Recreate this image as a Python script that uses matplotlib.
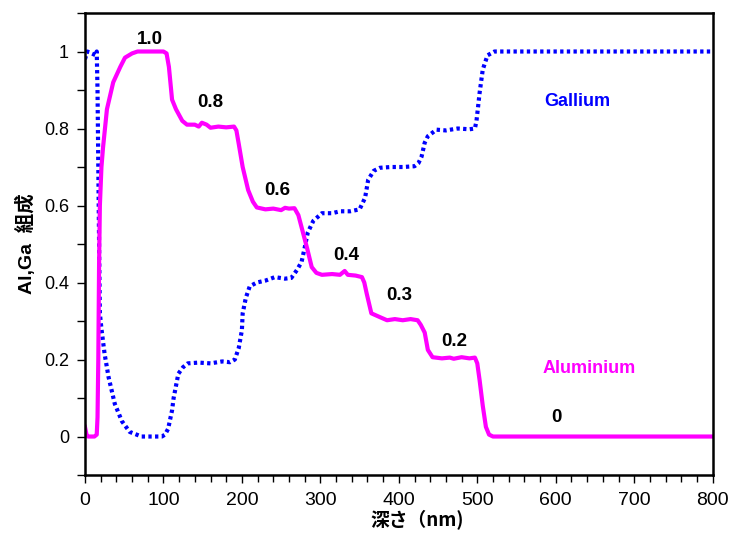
import matplotlib
matplotlib.use("Agg")
import matplotlib.pyplot as plt
from matplotlib.ticker import MultipleLocator

# アルミニウム組成 (depth nm, fraction)
al_x = [0, 2, 4, 8, 12, 15, 16, 17, 18, 19, 21, 23, 28, 36, 45, 51, 60, 67, 80, 100,
        104, 107, 111, 116, 124, 130, 140, 145, 149, 155, 160, 170, 180, 190, 193, 196,
        201, 208, 214, 219, 230, 240, 250, 255, 260, 267, 272, 276, 283, 289, 295, 302,
        315, 325, 331, 335, 345, 353, 356, 359, 365, 376, 385, 395, 405, 415, 424, 428,
        433, 437, 443, 455, 465, 470, 480, 490, 497, 500, 503, 507, 511, 515, 520, 600,
        700, 800]
al_y = [0.025, 0.005, 0.0, 0.0, 0.0, 0.005, 0.05, 0.2, 0.45, 0.6, 0.7, 0.75, 0.85, 0.92,
        0.96, 0.984, 0.995, 1.0, 1.0, 1.0,
        0.995, 0.96, 0.875, 0.85, 0.82, 0.81, 0.81, 0.805, 0.815, 0.81, 0.802, 0.805,
        0.803, 0.805, 0.795, 0.76,
        0.70, 0.64, 0.61, 0.595, 0.59, 0.592, 0.588, 0.594, 0.592, 0.593, 0.575, 0.544,
        0.49, 0.44, 0.425, 0.42,
        0.422, 0.42, 0.43, 0.42, 0.418, 0.414, 0.40, 0.372, 0.32, 0.31, 0.302, 0.305,
        0.302, 0.305, 0.302, 0.29,
        0.27, 0.225, 0.206, 0.203, 0.205, 0.202, 0.206, 0.203, 0.205, 0.19, 0.146, 0.08,
        0.025, 0.005, 0.0, 0.0,
        0.0, 0.0]

# ガリウム組成
ga_x = [0, 3, 14, 15, 16, 17, 18, 19, 21, 25, 30, 38, 47, 57, 72, 85, 98, 102, 106, 111,
        113, 119, 125, 131, 145, 160, 175, 185, 191, 196, 200, 201, 205, 210, 219, 230,
        242, 255, 263, 270, 276, 280, 284, 291, 302, 315, 325, 338, 350, 357, 361, 368,
        376, 390, 405, 420, 425, 429, 433, 437, 448, 460, 475, 490, 497, 499, 501, 503,
        507, 513, 522, 600, 700, 800]
ga_y = [0.98, 1.0, 0.99, 1.0, 0.9, 0.7, 0.5, 0.32, 0.28, 0.215, 0.155, 0.085, 0.04, 0.012,
        0.0, 0.0, 0.0, 0.005, 0.02, 0.068,
        0.1, 0.163, 0.18, 0.19, 0.192, 0.19, 0.195, 0.193, 0.2, 0.23, 0.276, 0.32, 0.36,
        0.39, 0.40, 0.405,
        0.414, 0.41, 0.412, 0.432, 0.453, 0.49, 0.53, 0.56, 0.58, 0.58, 0.585, 0.585,
        0.59, 0.62, 0.667, 0.69,
        0.698, 0.70, 0.70, 0.702, 0.71, 0.727, 0.763, 0.78, 0.797, 0.795, 0.80, 0.798,
        0.80, 0.82, 0.856, 0.893,
        0.953, 0.99, 1.0, 1.0, 1.0, 1.0]

# 段ごとの組成ラベル
step_labels = ["1.0", "0.8", "0.6", "0.4", "0.3", "0.2", "0"]
step_x = [83, 160, 245, 333, 401, 471, 601]
step_y = [1.03, 0.867, 0.638, 0.47, 0.365, 0.247, 0.05]

fig = plt.figure(figsize=(7.35, 5.35), dpi=100)
ax = fig.add_axes([0.1156, 0.1121, 0.854, 0.8636])

ax.plot(ga_x, ga_y, color="#0000ff", lw=3, linestyle=(0, (0.8, 0.8)))
ax.plot(al_x, al_y, color="#ff00ff", lw=3)

for t, x, y in zip(step_labels, step_x, step_y):
    ax.text(x, y, t, ha="center", va="center", fontsize=13.5, fontweight="bold",
            family="Liberation Sans")

ax.text(627, 0.87, "Gallium", color="#0000ff", ha="center", va="center",
        fontsize=13, fontweight="bold", family="Liberation Sans")
ax.text(643, 0.177, "Aluminium", color="#ff00ff", ha="center", va="center",
        fontsize=13, fontweight="bold", family="Liberation Sans")

ax.set_xlim(0, 800)
ax.set_ylim(-0.1, 1.1)
ax.xaxis.set_major_locator(MultipleLocator(100))
ax.xaxis.set_minor_locator(MultipleLocator(20))
ax.yaxis.set_minor_locator(MultipleLocator(0.1))
ax.set_yticks([0, 0.2, 0.4, 0.6, 0.8, 1.0])
ax.set_yticklabels(["0", "0.2", "0.4", "0.6", "0.8", "1"])

ax.tick_params(which="both", direction="out", width=1, color="black")
ax.tick_params(which="major", length=6)
ax.tick_params(which="minor", length=6)
ax.tick_params(axis="x", which="minor", length=5)
ax.tick_params(axis="x", which="major", pad=6)
ax.tick_params(axis="y", which="major", pad=5.5)
for lab in ax.get_xticklabels():
    lab.set_family(["Liberation Sans Narrow", "Liberation Sans"])
    lab.set_fontsize(14)
for lab in ax.get_yticklabels():
    lab.set_family("Liberation Sans")
    lab.set_fontsize(13)

for s in ax.spines.values():
    s.set_linewidth(1.8)

ax.set_xlabel("深さ（nm)", fontsize=13.5, fontweight="bold",
              family=["Noto Sans CJK JP", "DejaVu Sans"])
ax.xaxis.set_label_coords(0.53, -0.075)
ax.set_ylabel("Al,Ga  組成", fontsize=14, fontweight="bold",
              family=["Liberation Sans", "Noto Sans CJK JP"], labelpad=6)

fig.savefig("out.png", dpi=100)
